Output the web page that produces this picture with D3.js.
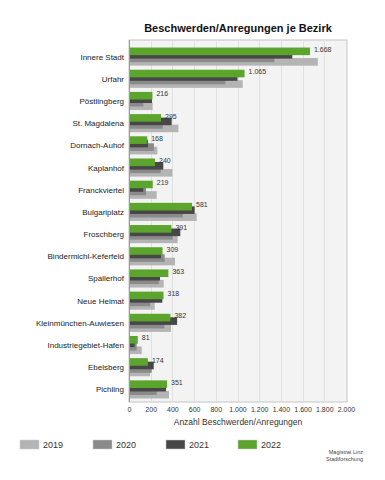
<!DOCTYPE html>
<html>
<head>
<meta charset="utf-8">
<script src="https://cdn.jsdelivr.net/npm/d3@7"></script>
<style>
body { margin: 0; background: #fff; }
svg { font-family: "Liberation Sans", Arial, sans-serif; }
</style>
</head>
<body>
<svg id="chart" width="385" height="480"></svg>
<script>
var districts = ['Innere Stadt', 'Urfahr', 'Pöstlingberg', 'St. Magdalena', 'Dornach-Auhof', 'Kaplanhof',
  'Franckviertel', 'Bulgariplatz', 'Froschberg', 'Bindermichl-Keferfeld', 'Spallerhof', 'Neue Heimat',
  'Kleinmünchen-Auwiesen', 'Industriegebiet-Hafen', 'Ebelsberg', 'Pichling'];
var years = ['2019', '2020', '2021', '2022'];
var values2019 = [1740, 1048, 218, 455, 261, 400, 255, 624, 449, 424, 320, 237, 387, 117, 194, 369];
var values2020 = [1340, 888, 132, 311, 230, 292, 157, 495, 403, 329, 274, 194, 326, 71, 209, 255];
var values2021 = [1505, 1000, 212, 393, 175, 316, 132, 605, 473, 295, 286, 307, 443, 52, 228, 341];
var values2022 = [1668, 1065, 216, 295, 168, 240, 219, 581, 391, 309, 363, 318, 382, 81, 174, 351];
var xTicks = [0, 200, 400, 600, 800, 1000, 1200, 1400, 1600, 1800, 2000];
var colors = ['#b4b4b4', '#8a8a8a', '#474747', '#5ba52c'];

var series = [values2019, values2020, values2021, values2022];
var svg = d3.select('#chart');

var fmt = d3.formatLocale({ decimal: ',', thousands: '.', grouping: [3], currency: ['', '€'] }).format(',d');

var x = d3.scaleLinear().domain([0, 2000]).range([129, 346]);
var y = d3.scaleBand().domain(districts).range([45.5, 400.5]);

var frameTop = 40, frameBottom = 402;

// title
svg.append('text')
  .attr('x', 238).attr('y', 32)
  .attr('text-anchor', 'middle')
  .style('font-size', '11px').style('font-weight', 'bold').style('fill', '#111')
  .text('Beschwerden/Anregungen je Bezirk');

// plot background
svg.append('rect')
  .attr('x', x(0)).attr('y', frameTop)
  .attr('width', x(2000) - x(0) + 1).attr('height', frameBottom - frameTop)
  .style('fill', '#f3f3f3').style('stroke', '#c4c4c4').style('stroke-width', 1);

svg.append('g').selectAll('line')
  .data(xTicks.slice(1, -1))
  .enter().append('line')
  .attr('x1', function(d) { return Math.round(x(d)) + 0.5; })
  .attr('x2', function(d) { return Math.round(x(d)) + 0.5; })
  .attr('y1', frameTop).attr('y2', frameBottom)
  .style('stroke', '#e0e0e0').style('stroke-width', 1);

// bars: overlapped, 2019 drawn first, 2022 on top
var barH = 7.6, step = 3.5;
var groupH = barH + step * 3;

series.forEach(function(vals, i) {
  svg.append('g').selectAll('rect')
    .data(vals)
    .enter().append('rect')
    .attr('x', x(0))
    .attr('y', function(d, j) {
      var c = y(districts[j]) + y.bandwidth() / 2 - groupH / 2;
      return c + (3 - i) * step;
    })
    .attr('width', function(d) { return x(d) - x(0); })
    .attr('height', barH)
    .style('fill', colors[i]);
});

// labels for 2022
svg.append('g').selectAll('text')
  .data(values2022)
  .enter().append('text')
  .attr('x', function(d) { return x(d) + 4; })
  .attr('y', function(d, i) { return y(districts[i]) + y.bandwidth() / 2 - groupH / 2 + 4.5; })
  .style('font-size', '7px').style('fill', '#333')
  .text(function(d) { return fmt(d); });

// y axis line
svg.append('line')
  .attr('x1', x(0) + 0.5).attr('x2', x(0) + 0.5)
  .attr('y1', frameTop).attr('y2', frameBottom)
  .style('stroke', '#999');

// category labels
svg.append('g').selectAll('text')
  .data(districts)
  .enter().append('text')
  .attr('x', 124)
  .attr('y', function(d) { return y(d) + y.bandwidth() / 2 + 3; })
  .attr('text-anchor', 'end')
  .style('font-size', '8px').style('fill', '#222')
  .text(function(d) { return d; });

// x axis
var xAxis = d3.axisBottom(x).tickValues(xTicks).tickSize(0).tickPadding(5)
  .tickFormat(function(d) { return fmt(d); });
var ax = svg.append('g').attr('transform', 'translate(0,' + frameBottom + ')').call(xAxis);
ax.select('.domain').remove();
ax.selectAll('text').style('font-size', '7px').style('fill', '#333')
  .style('font-family', '"Liberation Sans", Arial, sans-serif');

svg.append('text')
  .attr('x', 238).attr('y', 425)
  .attr('text-anchor', 'middle')
  .style('font-size', '8.5px').style('fill', '#333')
  .text('Anzahl Beschwerden/Anregungen');

// legend
var legendX = [20, 93, 166, 238];
var legend = svg.append('g').selectAll('g')
  .data(years)
  .enter().append('g')
  .attr('transform', function(d, i) { return 'translate(' + legendX[i] + ',440)'; });
legend.append('rect')
  .attr('width', 19).attr('height', 9)
  .style('fill', function(d, i) { return colors[i]; })
  .style('stroke', '#ccc').style('stroke-width', 0.5);
legend.append('text')
  .attr('x', 23).attr('y', 8)
  .style('font-size', '9px').style('fill', '#333')
  .text(function(d) { return d; });

// source
svg.append('text')
  .attr('x', 363).attr('y', 454)
  .attr('text-anchor', 'end')
  .style('font-size', '5.5px').style('fill', '#444')
  .text('Magistrat Linz');
svg.append('text')
  .attr('x', 363).attr('y', 461)
  .attr('text-anchor', 'end')
  .style('font-size', '5.5px').style('fill', '#444')
  .text('Stadtforschung');
</script>
</body>
</html>
